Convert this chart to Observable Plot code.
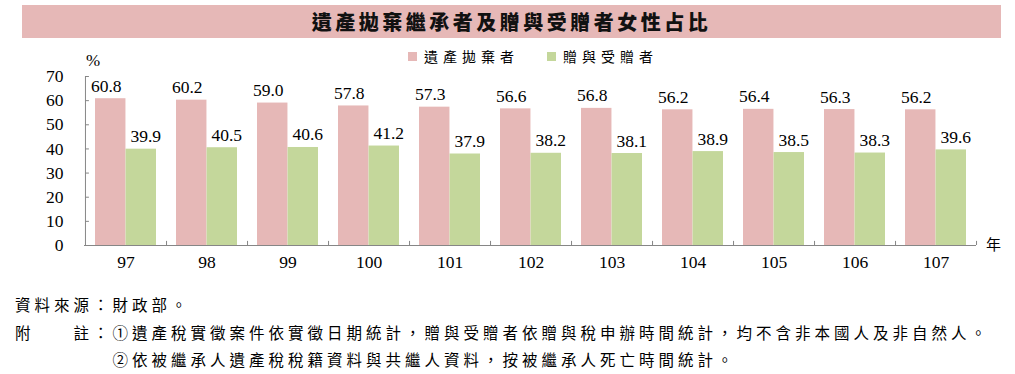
<!DOCTYPE html>
<html>
<head>
<meta charset="utf-8">
<script src="https://cdn.jsdelivr.net/npm/d3@7"></script>
<script src="https://cdn.jsdelivr.net/npm/@observablehq/plot@0.6"></script>
<style>
  html, body { margin: 0; padding: 0; background: #fff; }
  #wrap { position: relative; width: 1015px; height: 374px; overflow: hidden; font-family: "Noto Sans CJK TC", sans-serif; color: #000; }
  #banner { position: absolute; left: 22px; top: 5px; width: 979px; height: 33px; background: #e6b8b7; text-align: center; line-height: 33px; font-size: 20px; font-weight: 900; letter-spacing: 3.5px; color: #111; }
  #legend { position: absolute; top: 46px; left: 0; width: 1015px; font-size: 14px; }
  .lg { position: absolute; top: 0; white-space: nowrap; letter-spacing: 5px; line-height: 20px; }
  .sw { display: inline-block; width: 9px; height: 9px; margin-right: 7px; vertical-align: 1px; }
  #pct { position: absolute; left: 86px; top: 51px; font-family: "Liberation Serif", serif; font-size: 17px; }
  #nian { position: absolute; left: 986px; top: 233px; font-size: 15px; }
  #chart { position: absolute; left: 0; top: 40px; }
  #notes { position: absolute; left: 15px; top: 291px; font-size: 15.5px; letter-spacing: 4px; line-height: 27.5px; white-space: nowrap; }
</style>
</head>
<body>
<div id="wrap">
  <div id="banner"></div>
  <div id="legend"></div>
  <div id="pct">%</div>
  <div id="chart"></div>
  <div id="nian">年</div>
  <div id="notes"></div>
</div>
<script>
// ---- data ----
const title = "遺產拋棄繼承者及贈與受贈者女性占比";
const seriesNames = ["遺產拋棄者", "贈與受贈者"];
const seriesColors = ["#e6b8b7", "#c4d79b"];
const years = ["97", "98", "99", "100", "101", "102", "103", "104", "105", "106", "107"];
const abandonValues = [60.8, 60.2, 59.0, 57.8, 57.3, 56.6, 56.8, 56.2, 56.4, 56.3, 56.2];
const giftValues = [39.9, 40.5, 40.6, 41.2, 37.9, 38.2, 38.1, 38.9, 38.5, 38.3, 39.6];
const yTicks = [0, 10, 20, 30, 40, 50, 60, 70];
const notes = [
  "資料來源：財政部。",
  "附　　註：①遺產稅實徵案件依實徵日期統計，贈與受贈者依贈與稅申辦時間統計，均不含非本國人及非自然人。",
  "　　　　　②依被繼承人遺產稅稅籍資料與共繼人資料，按被繼承人死亡時間統計。"
];

// ---- layout ----
const W = 1015, H = 240;
const mL = 84, mR = 39, mT = 36, mB = 35;
const bw = (W - mL - mR) / years.length;   // band width (px)
const gap = 10;                              // space between band edge and bar
const half = bw / 2;
const axisGray = "#868686";
const serif = "'Liberation Serif', 'Times New Roman', serif";

document.getElementById("banner").textContent = title;
const legend = document.getElementById("legend");
const lgLeft = [408, 547];
seriesNames.forEach((n, i) => {
  const d = document.createElement("div");
  d.className = "lg";
  d.style.left = lgLeft[i] + "px";
  d.innerHTML = `<span class="sw" style="background:${seriesColors[i]}"></span>${n}`;
  legend.appendChild(d);
});
document.getElementById("notes").innerHTML = notes.map(t => `<div>${t}</div>`).join("");

const fmt = d3.format(".1f");
const idx = years.map((_, i) => i);
const lblOff = (half - gap) / 2 + gap / 2 - 0.5;

const chart = Plot.plot({
  width: W,
  height: H,
  marginLeft: mL,
  marginRight: mR,
  marginTop: mT,
  marginBottom: mB,
  style: { fontFamily: serif, fontSize: "17px", color: "#000", background: "transparent", overflow: "visible" },
  x: { type: "band", domain: years, padding: 0, label: null, axis: null },
  y: { domain: [0, 70], label: null, axis: null },
  marks: [
    Plot.barY(idx, { x: i => years[i], y: i => abandonValues[i], fill: seriesColors[0], insetLeft: gap, insetRight: half }),
    Plot.barY(idx, { x: i => years[i], y: i => giftValues[i], fill: seriesColors[1], insetLeft: half, insetRight: gap }),
    Plot.text(idx, { x: i => years[i], y: i => abandonValues[i], text: i => fmt(abandonValues[i]), dx: -lblOff, dy: -7, lineAnchor: "bottom", fontSize: 17.5, fontFamily: serif, fill: "#000" }),
    Plot.text(idx, { x: i => years[i], y: i => giftValues[i], text: i => fmt(giftValues[i]), dx: lblOff, dy: -7, lineAnchor: "bottom", fontSize: 17.5, fontFamily: serif, fill: "#000" }),
    // axes
    Plot.axisY(yTicks, { tickSize: 0, tickPadding: 21, fontSize: 17.5, fontFamily: serif, fill: "#000", label: null }),
    Plot.axisX({ tickSize: 0, tickPadding: 10, fontSize: 17.5, fontFamily: serif, fill: "#000", label: null }),
    // inward y ticks
    Plot.ruleY(yTicks, { y: d => d, x1: () => years[0], x2: () => years[0], insetRight: bw - 4, stroke: axisGray }),
    // x boundary ticks
    Plot.ruleX(years, { x: d => d, dx: half, y1: 0, y2: 1.7, stroke: axisGray }),
    // axis lines
    Plot.ruleY([0], { stroke: axisGray }),
    Plot.ruleX([years[0]], { dx: -half, y1: 0, y2: 70, stroke: axisGray })
  ]
});
document.getElementById("chart").appendChild(chart);
</script>
</body>
</html>
